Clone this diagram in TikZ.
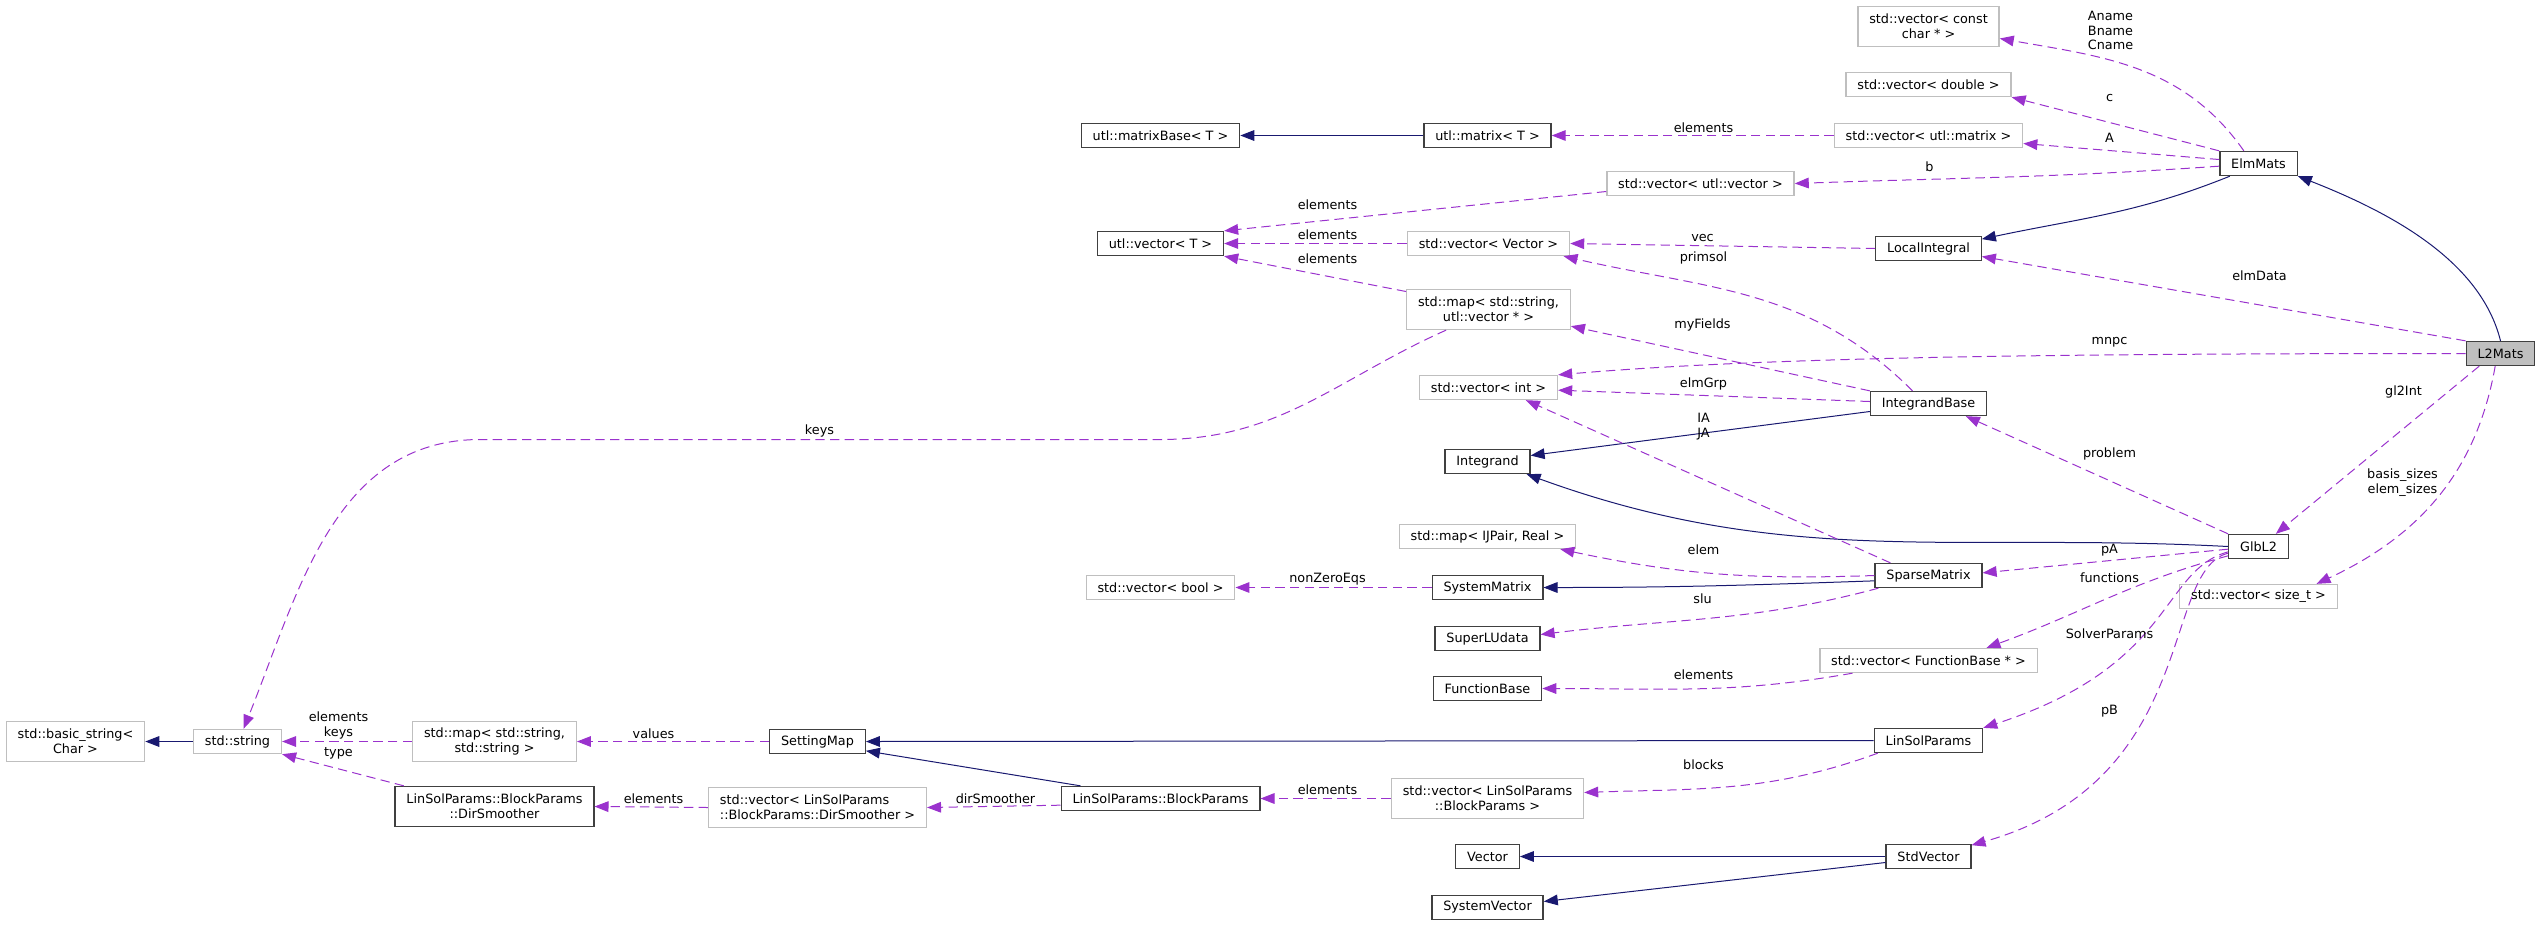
\documentclass[tikz,border=0pt]{standalone}
\usepackage{fontspec}
\setmainfont{DejaVu Sans}
\usetikzlibrary{arrows.meta}
\definecolor{navy}{HTML}{191970}
\definecolor{orchid}{HTML}{9A32CD}
\definecolor{dgray}{HTML}{404040}
\definecolor{lgray}{HTML}{BFBFBF}
\tikzset{
  cls/.style={draw=dgray, line width=1pt, fill=white, inner xsep=8.5pt, inner ysep=1pt,
    minimum height=18pt, align=center},
  ext/.style={cls, draw=lgray},
  cur/.style={cls, fill=lgray},
  two/.style={minimum height=30pt},
  lbl/.style={inner sep=0pt, align=center},
  inh/.style={navy, line width=0.75pt, -{Triangle[length=10.5pt,width=8pt]}},
  use/.style={orchid, line width=0.75pt, dash pattern=on 7pt off 4pt,
    -{Triangle[length=10.5pt,width=8pt]}},
}
\begin{document}
\begin{tikzpicture}[x=0.75pt, y=-0.75pt, font=\fontsize{9.6}{11}\selectfont]
  \useasboundingbox (-0.5,-0.5) rectangle (2538.5,925.5);
  % classes
  \node[cur] (l2mats) at (2500,353) {L2Mats};
  \node[cls] (elmmats) at (2258,163) {ElmMats};
  \node[cls] (glbl2) at (2258,546) {GlbL2};
  \node[ext] (vszt) at (2258,596) {std::vector< size\_t >};
  \node[ext,two] (vcc) at (1928,26) {std::vector< const\\char * >};
  \node[ext] (vdbl) at (1928,84) {std::vector< double >};
  \node[ext] (vmat) at (1928,135) {std::vector< utl::matrix >};
  \node[cls] (locint) at (1928,248) {LocalIntegral};
  \node[cls] (ibase) at (1928,403) {IntegrandBase};
  \node[cls] (spm) at (1928,575) {SparseMatrix};
  \node[ext] (vfb) at (1928,660) {std::vector< FunctionBase * >};
  \node[cls] (lsp) at (1928,740) {LinSolParams};
  \node[cls] (stdv) at (1928,856) {StdVector};
  \node[ext] (vuv) at (1700,183) {std::vector< utl::vector >};
  \node[cls] (umat) at (1487,135) {utl::matrix< T >};
  \node[ext] (vvec) at (1488,243) {std::vector< Vector >};
  \node[ext,two] (mapuv) at (1488,309) {std::map< std::string,\\utl::vector * >};
  \node[ext] (vint) at (1488,387) {std::vector< int >};
  \node[cls] (integrand) at (1487,461) {Integrand};
  \node[ext] (mapij) at (1487,536) {std::map< IJPair, Real >};
  \node[cls] (sysmat) at (1487,587) {SystemMatrix};
  \node[cls] (slud) at (1487,638) {SuperLUdata};
  \node[cls] (fbase) at (1487,688) {FunctionBase};
  \node[ext,two] (vbp) at (1487,798) {std::vector< LinSolParams\\::BlockParams >};
  \node[cls] (vect) at (1487,856) {Vector};
  \node[cls] (sysvec) at (1487,907) {SystemVector};
  \node[cls] (umb) at (1160,135) {utl::matrixBase< T >};
  \node[cls] (uvec) at (1160,243) {utl::vector< T >};
  \node[ext] (vbool) at (1160,587) {std::vector< bool >};
  \node[cls] (bp) at (1160,798) {LinSolParams::BlockParams};
  \node[cls] (setmap) at (817,741) {SettingMap};
  \node[ext,two,align=left] (vds) at (817,807) {std::vector< LinSolParams\\::BlockParams::DirSmoother >};
  \node[ext,two] (mapss) at (494,741) {std::map< std::string,\\std::string >};
  \node[cls,two] (dsm) at (494,806) {LinSolParams::BlockParams\\::DirSmoother};
  \node[ext] (str) at (237,741) {std::string};
  \node[ext,two] (bstr) at (75,741) {std::basic\_string<\\Char >};
  % inheritance
  \draw[inh] (l2mats.north) .. controls (2480,260) and (2390,212) .. (elmmats.south east);
  \draw[inh] ([xshift=8pt]elmmats.south west) to[out=-158, in=12] (locint.10);
  \draw[inh] (umat.west) -- (umb.east);
  \draw[inh] ([yshift=-6pt]ibase.west) -- ([yshift=4.5pt]integrand.east);
  \draw[inh] (glbl2.west) to[out=177, in=-20] ([xshift=-3pt]integrand.south east);
  \draw[inh] ([yshift=-4pt]spm.west) to[out=182, in=0] (sysmat.east);
  \draw[inh] (lsp.west) -- (setmap.east);
  \draw[inh] ([xshift=15pt]bp.north west) -- ([yshift=-7pt]setmap.east);
  \draw[inh] (stdv.west) -- (vect.east);
  \draw[inh] ([yshift=-4.5pt]stdv.west) -- ([yshift=4.5pt]sysvec.east);
  \draw[inh] (str.west) -- (bstr.east);
  % members of ElmMats and L2Mats
  \draw[use] ([xshift=-11pt]elmmats.north) to[out=125, in=-10] ([yshift=-9pt]vcc.east);
  \draw[use] (elmmats.north west) -- (vdbl.south east);
  \draw[use] ([yshift=3pt]elmmats.west) -- ([yshift=-6pt]vmat.east);
  \draw[use] ([yshift=-2pt]elmmats.west) to[out=184, in=2] (vuv.east);
  \draw[use] (l2mats.north west) -- ([yshift=3.5pt]locint.south east);
  \draw[use] (l2mats.west) .. controls (2000,353) and (1750,358) .. (vint.north east);
  \draw[use] ([xshift=-16pt]l2mats.south) -- ([xshift=13pt]glbl2.north);
  \draw[use] ([xshift=-4pt]l2mats.south) to[out=-100, in=25] ([xshift=43.5pt]vszt.north);
  % members of GlbL2
  \draw[use] (glbl2.north west) -- ([xshift=28pt]ibase.south);
  \draw[use] ([yshift=-2pt]glbl2.west) -- ([yshift=2pt]spm.east);
  \draw[use] ([yshift=-7pt]glbl2.west) to[out=195, in=20] ([xshift=43.5pt]vfb.north);
  \draw[use] ([yshift=-4pt]glbl2.west) .. controls (2160,570) and (2175,665) .. (lsp.north east);
  \draw[use] ([yshift=-5pt]glbl2.west) .. controls (2160,570) and (2200,780) .. ([yshift=-1pt]stdv.north east);
  % the rest
  \draw[use] (vmat.west) -- (umat.east);
  \draw[use] ([yshift=-6pt]vuv.west) -- (uvec.north east);
  \draw[use] (vvec.west) -- (uvec.east);
  \draw[use] ([yshift=-2pt]mapuv.north west) -- (uvec.south east);
  \draw[use] (locint.west) -- (vvec.east);
  \draw[use] ([xshift=-12pt]ibase.north) to[out=135, in=-13] ([xshift=-5pt]vvec.south east);
  \draw[use] (ibase.north west) -- ([yshift=3pt]mapuv.south east);
  \draw[use] ([yshift=1.5pt]ibase.west) -- ([yshift=-2pt]vint.east);
  \draw[use] ([xshift=12pt]spm.north west) -- ([xshift=28pt]vint.south);
  \draw[use] (spm.west) to[out=182, in=-12] ([xshift=-12pt]mapij.south east);
  \draw[use] ([xshift=3pt]spm.south west) to[out=195, in=7] ([yshift=3pt]slud.east);
  \draw[use] (sysmat.west) -- (vbool.east);
  \draw[use] ([xshift=-57pt]vfb.south) to[out=190, in=0] (fbase.east);
  \draw[use] ([xshift=3pt]lsp.south west) to[out=200, in=2] ([yshift=4.5pt]vbp.east);
  \draw[use] (vbp.west) -- (bp.east);
  \draw[use] ([yshift=-5pt]bp.west) -- (vds.east);
  \draw[use] (vds.west) -- (dsm.east);
  \draw[use] (setmap.west) -- (mapss.east);
  \draw[use] (mapss.west) -- (str.east);
  \draw[use] ([xshift=7pt]dsm.north west) -- (str.south east);
  \coordinate (k1) at (1160,439);
  \coordinate (k2) at (480,439);
  \draw[use] ([xshift=30pt]mapuv.south west) to[out=-156, in=0] (k1) -- (k2)
    to[out=180, in=68] ([xshift=4.5pt]str.north);
  % labels
  \node[lbl] (lnames) at (2110,30) {Aname\\Bname\\Cname};
  \node[lbl] (lc) at (2109,97) {c};
  \node[lbl] (la) at (2109,137) {A};
  \node[lbl] (lb) at (1929,166) {b};
  \node[lbl] (lelmdata) at (2259,275) {elmData};
  \node[lbl] (lmnpc) at (2109,342) {mnpc};
  \node[lbl] (lgl2int) at (2403,391) {gl2Int};
  \node[lbl] (lproblem) at (2109,453) {problem};
  \node[lbl] (lsizes) at (2402,482) {basis\_sizes\\elem\_sizes};
  \node[lbl] (lpa) at (2109,550) {pA};
  \node[lbl] (lfunc) at (2109,577) {functions};
  \node[lbl] (lsolver) at (2109,633) {SolverParams};
  \node[lbl] (lpb) at (2109,711) {pB};
  \node[lbl] (lel1) at (1703,127) {elements};
  \node[lbl] (lel2) at (1327,204) {elements};
  \node[lbl] (lel3) at (1327,234) {elements};
  \node[lbl] (lel4) at (1327,258) {elements};
  \node[lbl] (lvec) at (1702,237) {vec};
  \node[lbl] (lprimsol) at (1703,257) {primsol};
  \node[lbl] (lmyfields) at (1702,324) {myFields};
  \node[lbl] (lelmgrp) at (1703,383) {elmGrp};
  \node[lbl] (lija) at (1703,426) {IA\\JA};
  \node[lbl] (lelem) at (1703,549) {elem};
  \node[lbl] (lnonzero) at (1327,579) {nonZeroEqs};
  \node[lbl] (lslu) at (1702,598) {slu};
  \node[lbl] (lel5) at (1703,674) {elements};
  \node[lbl] (lblocks) at (1703,764) {blocks};
  \node[lbl] (lel6) at (1327,789) {elements};
  \node[lbl] (ldirsm) at (995,798) {dirSmoother};
  \node[lbl] (lel7) at (653,798) {elements};
  \node[lbl] (lvalues) at (653,733) {values};
  \node[lbl] (lelkeys) at (338,725) {elements\\keys};
  \node[lbl] (ltype) at (338,753) {type};
  \node[lbl] (lkeys) at (819,430) {keys};
\end{tikzpicture}
\end{document}
